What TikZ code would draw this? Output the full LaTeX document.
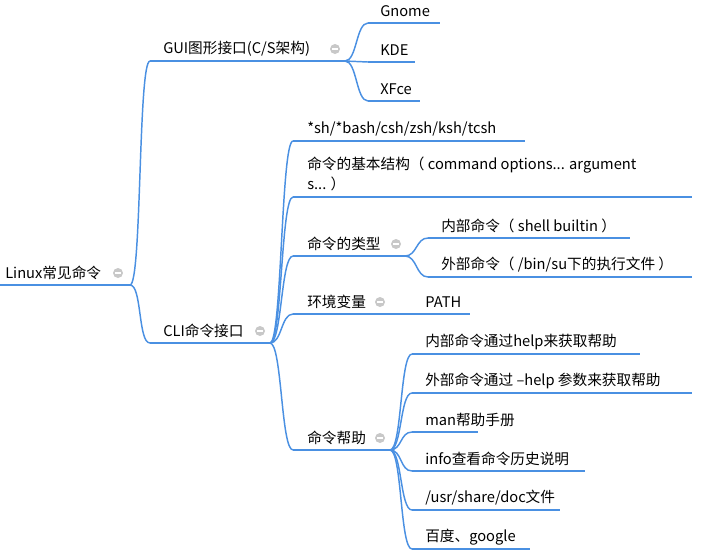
\documentclass[tikz,border=0pt]{standalone}
\usepackage{fontspec}
\setmainfont{Noto Sans CJK SC}
\definecolor{mapblue}{RGB}{74,144,226}
\definecolor{foldgray}{RGB}{200,200,200}
\tikzset{
  txt/.style={anchor=west,inner sep=0pt,font=\fontsize{11}{14.5}\selectfont},
  branch/.style={draw=mapblue,line width=1.1pt},
  fold/.style={circle,fill=foldgray,inner sep=0pt,minimum size=7.5pt,
    path picture={\draw[white,line width=0.8pt] ([xshift=-2pt]path picture bounding box.center) -- ([xshift=2pt]path picture bounding box.center);}}
}
% topic: name, x, y, underline left, underline right, text
\newcommand\topic[6]{
  \node[txt] (#1) at (#2,#3) {#6};
  \coordinate (#1-l) at (#4,#3+12);
  \coordinate (#1-r) at (#5,#3+12);
  \draw[branch] (#1-l) -- (#1-r);
}
\newcommand\link[2]{\draw[branch] (#1-r) .. controls +(12,0) and +(-12,0) .. (#2-l);}
\begin{document}
\begin{tikzpicture}[x=0.75pt,y=-0.75pt]
\useasboundingbox (0,0) rectangle (702,551);
% root
\topic{root}{5}{273}{0}{130}{Linux常见命令}
\node[fold] (root-f) at (118,273) {};
% GUI
\topic{gui}{163}{49}{150}{345}{GUI图形接口(C/S架构)}
\node[fold] (gui-f) at (335,49) {};
\topic{gnome}{380}{11}{368}{440}{Gnome}
\topic{kde}{380}{50}{368}{415}{KDE}
\topic{xfce}{380}{89}{368}{420}{XFce}
% CLI
\topic{cli}{163}{331}{150}{270}{CLI命令接口}
\node[fold] (cli-f) at (260,331) {};
\topic{shell}{307}{129}{293}{525}{*sh/*bash/csh/zsh/ksh/tcsh}
\node[txt,anchor=north west,align=left] (struct) at (307,157)
  {命令的基本结构（ command options... argument\\s... ）};
\coordinate (struct-l) at (293,197);
\coordinate (struct-r) at (692,197);
\draw[branch] (struct-l) -- (struct-r);
\topic{type}{307}{244}{293}{405}{命令的类型}
\node[fold] (type-f) at (396,244) {};
\topic{builtin}{441}{226}{428}{630}{内部命令（ shell builtin ）}
\topic{external}{441}{265}{428}{692}{外部命令（ /bin/su下的执行文件 ）}
\topic{env}{307}{302}{293}{390}{环境变量}
\node[fold] (env-f) at (380,302) {};
\topic{path}{425}{302}{412}{470}{PATH}
\topic{help}{307}{438}{293}{390}{命令帮助}
\node[fold] (help-f) at (380,438) {};
\topic{h1}{425}{342}{412}{640}{内部命令通过help来获取帮助}
\topic{h2}{425}{381}{412}{692}{外部命令通过 --help 参数来获取帮助}
\topic{h3}{425}{420}{412}{478}{man帮助手册}
\topic{h4}{425}{459}{412}{585}{info查看命令历史说明}
\topic{h5}{425}{498}{412}{560}{/usr/share/doc文件}
\topic{h6}{425}{537}{412}{530}{百度、google}
% connectors
\link{root}{gui}
\link{root}{cli}
\foreach \c in {gnome,kde,xfce} {\link{gui}{\c}}
\foreach \c in {shell,struct,type,env,help} {\link{cli}{\c}}
\foreach \c in {builtin,external} {\link{type}{\c}}
\link{env}{path}
\foreach \c in {h1,h2,h3,h4,h5,h6} {\link{help}{\c}}
\end{tikzpicture}
\end{document}
